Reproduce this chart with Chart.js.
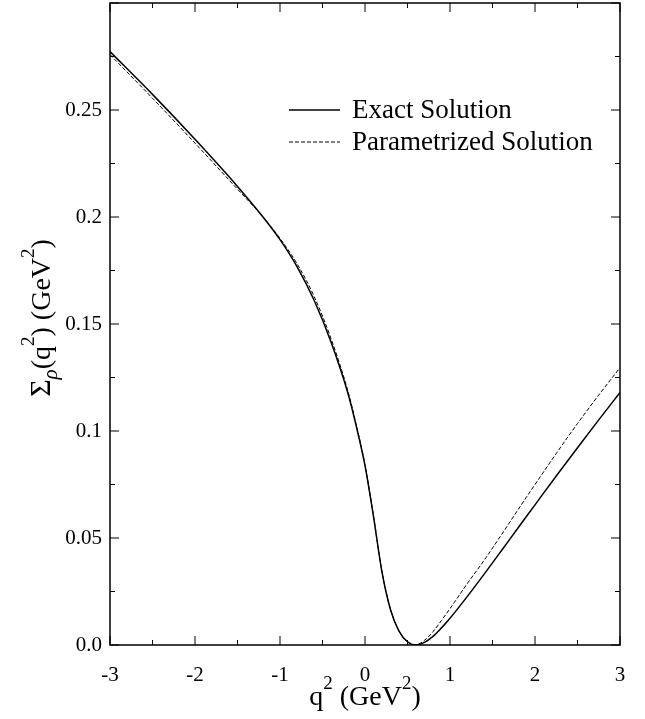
<!DOCTYPE html>
<html>
<head>
<meta charset="utf-8">
<script src="https://cdn.jsdelivr.net/npm/chart.js@4.4.1/dist/chart.umd.min.js"></script>
<style>
  body { margin: 0; background: #fff; }
  #wrap { width: 645px; height: 719px; }
</style>
</head>
<body>
<div id="wrap"><canvas id="chart" width="645" height="719"></canvas></div>
<script>
// q^2 values (GeV^2)
var q2 = [-3, -2.5, -2, -1.5, -1.2, -1, -0.8, -0.6, -0.4, -0.2, -0.1, 0, 0.1, 0.2, 0.3, 0.4, 0.5, 0.6, 0.7, 0.8, 0.9, 1.0, 1.2, 1.4, 1.6, 1.8, 2.0, 2.25, 2.5, 2.75, 3.0];
// exact solution
var exact = [0.2773, 0.2573, 0.2363, 0.2143, 0.2000, 0.1894, 0.1768, 0.1612, 0.1416, 0.1175, 0.1018, 0.0838, 0.0600, 0.0340, 0.0165, 0.0065, 0.0015, 0.0000, 0.0012, 0.0040, 0.0080, 0.0125, 0.0225, 0.0330, 0.0438, 0.0547, 0.0655, 0.0790, 0.0922, 0.1052, 0.1180];
// parametrized solution
var param = [0.2759, 0.2555, 0.2345, 0.2130, 0.2000, 0.1900, 0.1782, 0.1630, 0.1432, 0.1185, 0.1024, 0.0842, 0.0603, 0.0342, 0.0167, 0.0066, 0.0014, 0.0002, 0.0022, 0.0062, 0.0115, 0.0170, 0.0285, 0.0395, 0.0512, 0.0632, 0.0750, 0.0895, 0.1035, 0.1168, 0.1296];
var seriesNames = ['Exact Solution', 'Parametrized Solution'];
var yTicks = [0, 0.05, 0.1, 0.15, 0.2, 0.25];

var serif = '"Liberation Serif", "Times New Roman", serif';

function pts(ys) {
  return q2.map(function (x, i) { return { x: x, y: ys[i] }; });
}

// frame, inward ticks, legend and axis titles
var decor = {
  id: 'decor',
  afterDraw: function (chart) {
    var c = chart.ctx, a = chart.chartArea;
    var xs = chart.scales.x, ys = chart.scales.y;
    c.save();
    c.strokeStyle = '#000';
    c.lineWidth = 1.5;
    c.strokeRect(a.left, a.top, a.right - a.left, a.bottom - a.top);

    c.lineWidth = 1;
    c.beginPath();
    for (var v = -3; v <= 3.001; v += 0.5) {
      var px = xs.getPixelForValue(v);
      var len = Math.abs(v - Math.round(v)) < 0.01 ? 9 : 5;
      c.moveTo(px, a.bottom); c.lineTo(px, a.bottom - len);
      c.moveTo(px, a.top); c.lineTo(px, a.top + len);
    }
    for (var w = 0; w <= 0.3001; w += 0.025) {
      var py = ys.getPixelForValue(w);
      var major = Math.abs(w / 0.05 - Math.round(w / 0.05)) < 0.01;
      var l2 = major ? 9 : 5;
      c.moveTo(a.left, py); c.lineTo(a.left + l2, py);
      c.moveTo(a.right, py); c.lineTo(a.right - l2, py);
    }
    c.stroke();

    // legend
    c.fillStyle = '#000';
    c.font = '27px ' + serif;
    c.textBaseline = 'middle';
    chart.data.datasets.forEach(function (ds, i) {
      var y = 110 + i * 32;
      c.beginPath();
      c.lineWidth = ds.borderWidth;
      c.setLineDash(ds.borderDash || []);
      c.moveTo(289, y); c.lineTo(340, y);
      c.stroke();
      c.setLineDash([]);
      c.fillText(ds.label, 352, y + 1);
    });

    // x title
    drawRich(c, [['q', 28, 0], ['2', 19, -16], [' (GeV', 28, 0], ['2', 19, -16], [')', 28, 0]],
      (a.left + a.right) / 2, 705);

    // y title
    c.save();
    c.translate(41, 318);
    c.rotate(-Math.PI / 2);
    drawRich(c, [['\u03A3', 30, 0], ['\u03C1', 21, 7, 'italic '], ['(q', 28, 0], ['2', 19, -16], [') (GeV', 28, 0], ['2', 19, -16], [')', 28, 0]], 0, 9);
    c.restore();
    c.restore();
  }
};

function drawRich(c, parts, cx, baseY) {
  c.textBaseline = 'alphabetic';
  c.textAlign = 'left';
  var total = 0;
  parts.forEach(function (p) {
    c.font = (p[3] || '') + p[1] + 'px ' + serif;
    total += c.measureText(p[0]).width;
  });
  var x = cx - total / 2;
  parts.forEach(function (p) {
    c.font = (p[3] || '') + p[1] + 'px ' + serif;
    c.fillText(p[0], x, baseY + p[2]);
    x += c.measureText(p[0]).width;
  });
}

new Chart(document.getElementById('chart'), {
  type: 'scatter',
  data: {
    datasets: [{
      label: seriesNames[0],
      data: pts(exact),
      showLine: true,
      borderColor: '#000',
      borderWidth: 1.5,
      pointRadius: 0,
      cubicInterpolationMode: 'monotone'
    }, {
      label: seriesNames[1],
      data: pts(param),
      showLine: true,
      borderColor: '#000',
      borderWidth: 1,
      borderDash: [4, 2],
      pointRadius: 0,
      cubicInterpolationMode: 'monotone'
    }]
  },
  options: {
    responsive: false,
    animation: false,
    layout: { padding: { top: 3, right: 25, left: 0, bottom: 0 } },
    plugins: { legend: { display: false }, tooltip: { enabled: false } },
    scales: {
      x: {
        type: 'linear', min: -3, max: 3,
        grid: { display: false, drawTicks: false },
        border: { display: false },
        ticks: { stepSize: 1, padding: 18, color: '#000', font: { family: serif, size: 21 }, maxRotation: 0 },
        afterFit: function (s) { s.height = 74; s.paddingLeft = 0; s.paddingRight = 0; }
      },
      y: {
        type: 'linear', min: 0, max: 0.3,
        grid: { display: false, drawTicks: false },
        border: { display: false },
        afterBuildTicks: function (s) { s.ticks = yTicks.map(function (v) { return { value: v }; }); },
        ticks: {
          padding: 8, color: '#000', font: { family: serif, size: 21 },
          callback: function (v) { return v === 0 ? '0.0' : String(+v.toFixed(2)); }
        },
        afterFit: function (s) { s.width = 110; s.paddingTop = 0; s.paddingBottom = 0; }
      }
    }
  },
  plugins: [decor]
});
</script>
</body>
</html>
